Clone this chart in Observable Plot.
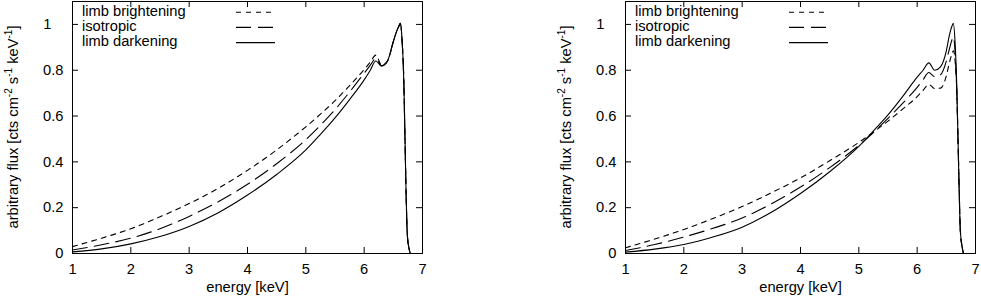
<!DOCTYPE html>
<html><head><meta charset="utf-8">
<script src="https://cdn.jsdelivr.net/npm/d3@7"></script>
<script src="https://cdn.jsdelivr.net/npm/@observablehq/plot@0.6"></script>
<style>
html,body{margin:0;padding:0;background:#fff;}
body{width:981px;height:300px;overflow:hidden;position:relative;font-family:"Liberation Sans",Arial,Helvetica,sans-serif;}
.panel{position:absolute;top:0;}
</style></head><body>
<div id="left" class="panel" style="left:0px"></div>
<div id="right" class="panel" style="left:553px"></div>
<script>
// ---- data ----
const energy = [1, 1.5, 2, 2.5, 3, 3.5, 4, 4.5, 5, 5.25, 5.5, 5.75, 6, 6.1, 6.2, 6.3, 6.4, 6.5, 6.55, 6.6, 6.62, 6.65, 6.68, 6.7, 6.72, 6.74, 6.77, 6.8, 7];

const leftBrightening = [0.03, 0.067, 0.108, 0.16, 0.218, 0.285, 0.363, 0.452, 0.553, 0.608, 0.667, 0.733, 0.803, 0.834, 0.866, 0.822, 0.84, 0.925, 0.965, 0.995, 1.005, 0.93, 0.75, 0.5, 0.25, 0.08, 0.02, 0, 0];
const leftIsotropic   = [0.015, 0.038, 0.067, 0.108, 0.162, 0.226, 0.302, 0.392, 0.497, 0.56, 0.628, 0.705, 0.787, 0.82, 0.852, 0.82, 0.84, 0.925, 0.965, 0.995, 1.005, 0.93, 0.75, 0.5, 0.25, 0.08, 0.02, 0, 0];
const leftDarkening   = [0.007, 0.02, 0.042, 0.074, 0.118, 0.178, 0.255, 0.345, 0.452, 0.52, 0.592, 0.672, 0.758, 0.798, 0.84, 0.818, 0.84, 0.925, 0.965, 0.995, 1.005, 0.93, 0.75, 0.5, 0.25, 0.08, 0.02, 0, 0];

const rightBrightening = [0.025, 0.063, 0.105, 0.153, 0.205, 0.265, 0.33, 0.405, 0.485, 0.53, 0.578, 0.63, 0.685, 0.712, 0.738, 0.72, 0.722, 0.775, 0.83, 0.875, 0.885, 0.84, 0.7, 0.5, 0.28, 0.1, 0.03, 0, 0];
const rightIsotropic   = [0.013, 0.039, 0.072, 0.11, 0.155, 0.217, 0.29, 0.375, 0.472, 0.528, 0.59, 0.655, 0.725, 0.758, 0.79, 0.772, 0.78, 0.84, 0.89, 0.935, 0.945, 0.88, 0.7, 0.5, 0.28, 0.1, 0.03, 0, 0];
const rightDarkening   = [0.006, 0.019, 0.039, 0.072, 0.115, 0.18, 0.262, 0.357, 0.468, 0.535, 0.605, 0.685, 0.77, 0.8, 0.832, 0.8, 0.815, 0.885, 0.95, 0.995, 1.005, 0.92, 0.72, 0.5, 0.28, 0.1, 0.03, 0, 0];

const seriesNames = ["limb brightening", "isotropic", "limb darkening"];
const xTicks = [1, 2, 3, 4, 5, 6, 7];
const yTicks = [0, 0.2, 0.4, 0.6, 0.8, 1];
const xLabel = "energy [keV]";
const yLabelParts = [["arbitrary flux [cts cm", false], ["-2", true], [" s", false], ["-1", true], [" keV", false], ["-1", true], ["]", false]];

// ---- drawing ----
const FONT = "'Liberation Sans', Arial, Helvetica, sans-serif";
const dashes = ["5,5", "15,7", null];

function panel(el, seriesValues) {
  const W = 428, H = 300, mL = 72, mR = 6, mT = 1, mB = 47;
  const fw = W - mL - mR, fh = H - mT - mB;
  const lineMarks = seriesValues.map((vals, k) =>
    Plot.line(energy.map((e, i) => ({E: e, flux: vals[i], series: seriesNames[k]})), {
      x: "E", y: "flux", stroke: "#000", strokeWidth: 1.1,
      strokeDasharray: dashes[k], curve: "monotone-x"
    })
  );
  const svg = Plot.plot({
    width: W, height: H, marginLeft: mL, marginRight: mR, marginTop: mT, marginBottom: mB,
    style: {fontFamily: FONT, fontSize: "14.7px", color: "#000", background: "#fff", overflow: "visible"},
    x: {domain: [1, 7]},
    y: {domain: [0, 1.1]},
    marks: [
      ...lineMarks,
      Plot.tickX(xTicks, {x: d => d, insetTop: fh - 6, stroke: "#000"}),
      Plot.tickX(xTicks, {x: d => d, insetBottom: fh - 6, stroke: "#000"}),
      Plot.tickY(yTicks, {y: d => d, insetRight: fw - 6, stroke: "#000"}),
      Plot.tickY(yTicks, {y: d => d, insetLeft: fw - 6, stroke: "#000"}),
      Plot.frame({stroke: "#000", strokeWidth: 1}),
      Plot.axisX({ticks: xTicks, tickSize: 0, tickPadding: 10, tickFormat: d => String(d), label: null, fill: "#000"}),
      Plot.axisY({ticks: yTicks.filter(t => t !== 1), tickSize: 0, tickPadding: 9, tickFormat: d => String(d), label: null, fill: "#000"}),
      Plot.axisY({ticks: [1], tickSize: 0, tickPadding: 21, tickFormat: d => String(d), label: null, fill: "#000"}),
      Plot.text([xLabel], {text: d => d, frameAnchor: "bottom", dy: 38, fill: "#000"})
    ]
  });
  const s = d3.select(svg);
  // y label with superscripts
  const yl = s.append("text")
    .attr("transform", `translate(18,${mT + fh / 2}) rotate(-90)`)
    .attr("text-anchor", "middle")
    .attr("fill", "#000");
  yLabelParts.forEach(([t, sup], i) => {
    const ts = yl.append("tspan").text(t);
    if (sup) ts.attr("font-size", "10px").attr("dy", "-6");
    else ts.attr("dy", i > 0 ? "6" : "0");
  });
  // legend
  const lg = s.append("g").attr("fill", "#000").attr("text-anchor", "start");
  seriesNames.forEach((name, k) => {
    const by = 16 + k * 15.2;
    lg.append("text").attr("x", mL + 10).attr("y", by).attr("text-anchor", "start").text(name);
    lg.append("line")
      .attr("x1", mL + 164).attr("x2", mL + 203)
      .attr("y1", by - 3.8).attr("y2", by - 3.8)
      .attr("stroke", "#000").attr("stroke-width", 1.1)
      .attr("stroke-dasharray", dashes[k]);
  });
  el.appendChild(svg);
}

panel(document.getElementById("left"), [leftBrightening, leftIsotropic, leftDarkening]);
panel(document.getElementById("right"), [rightBrightening, rightIsotropic, rightDarkening]);
</script>
</body></html>
